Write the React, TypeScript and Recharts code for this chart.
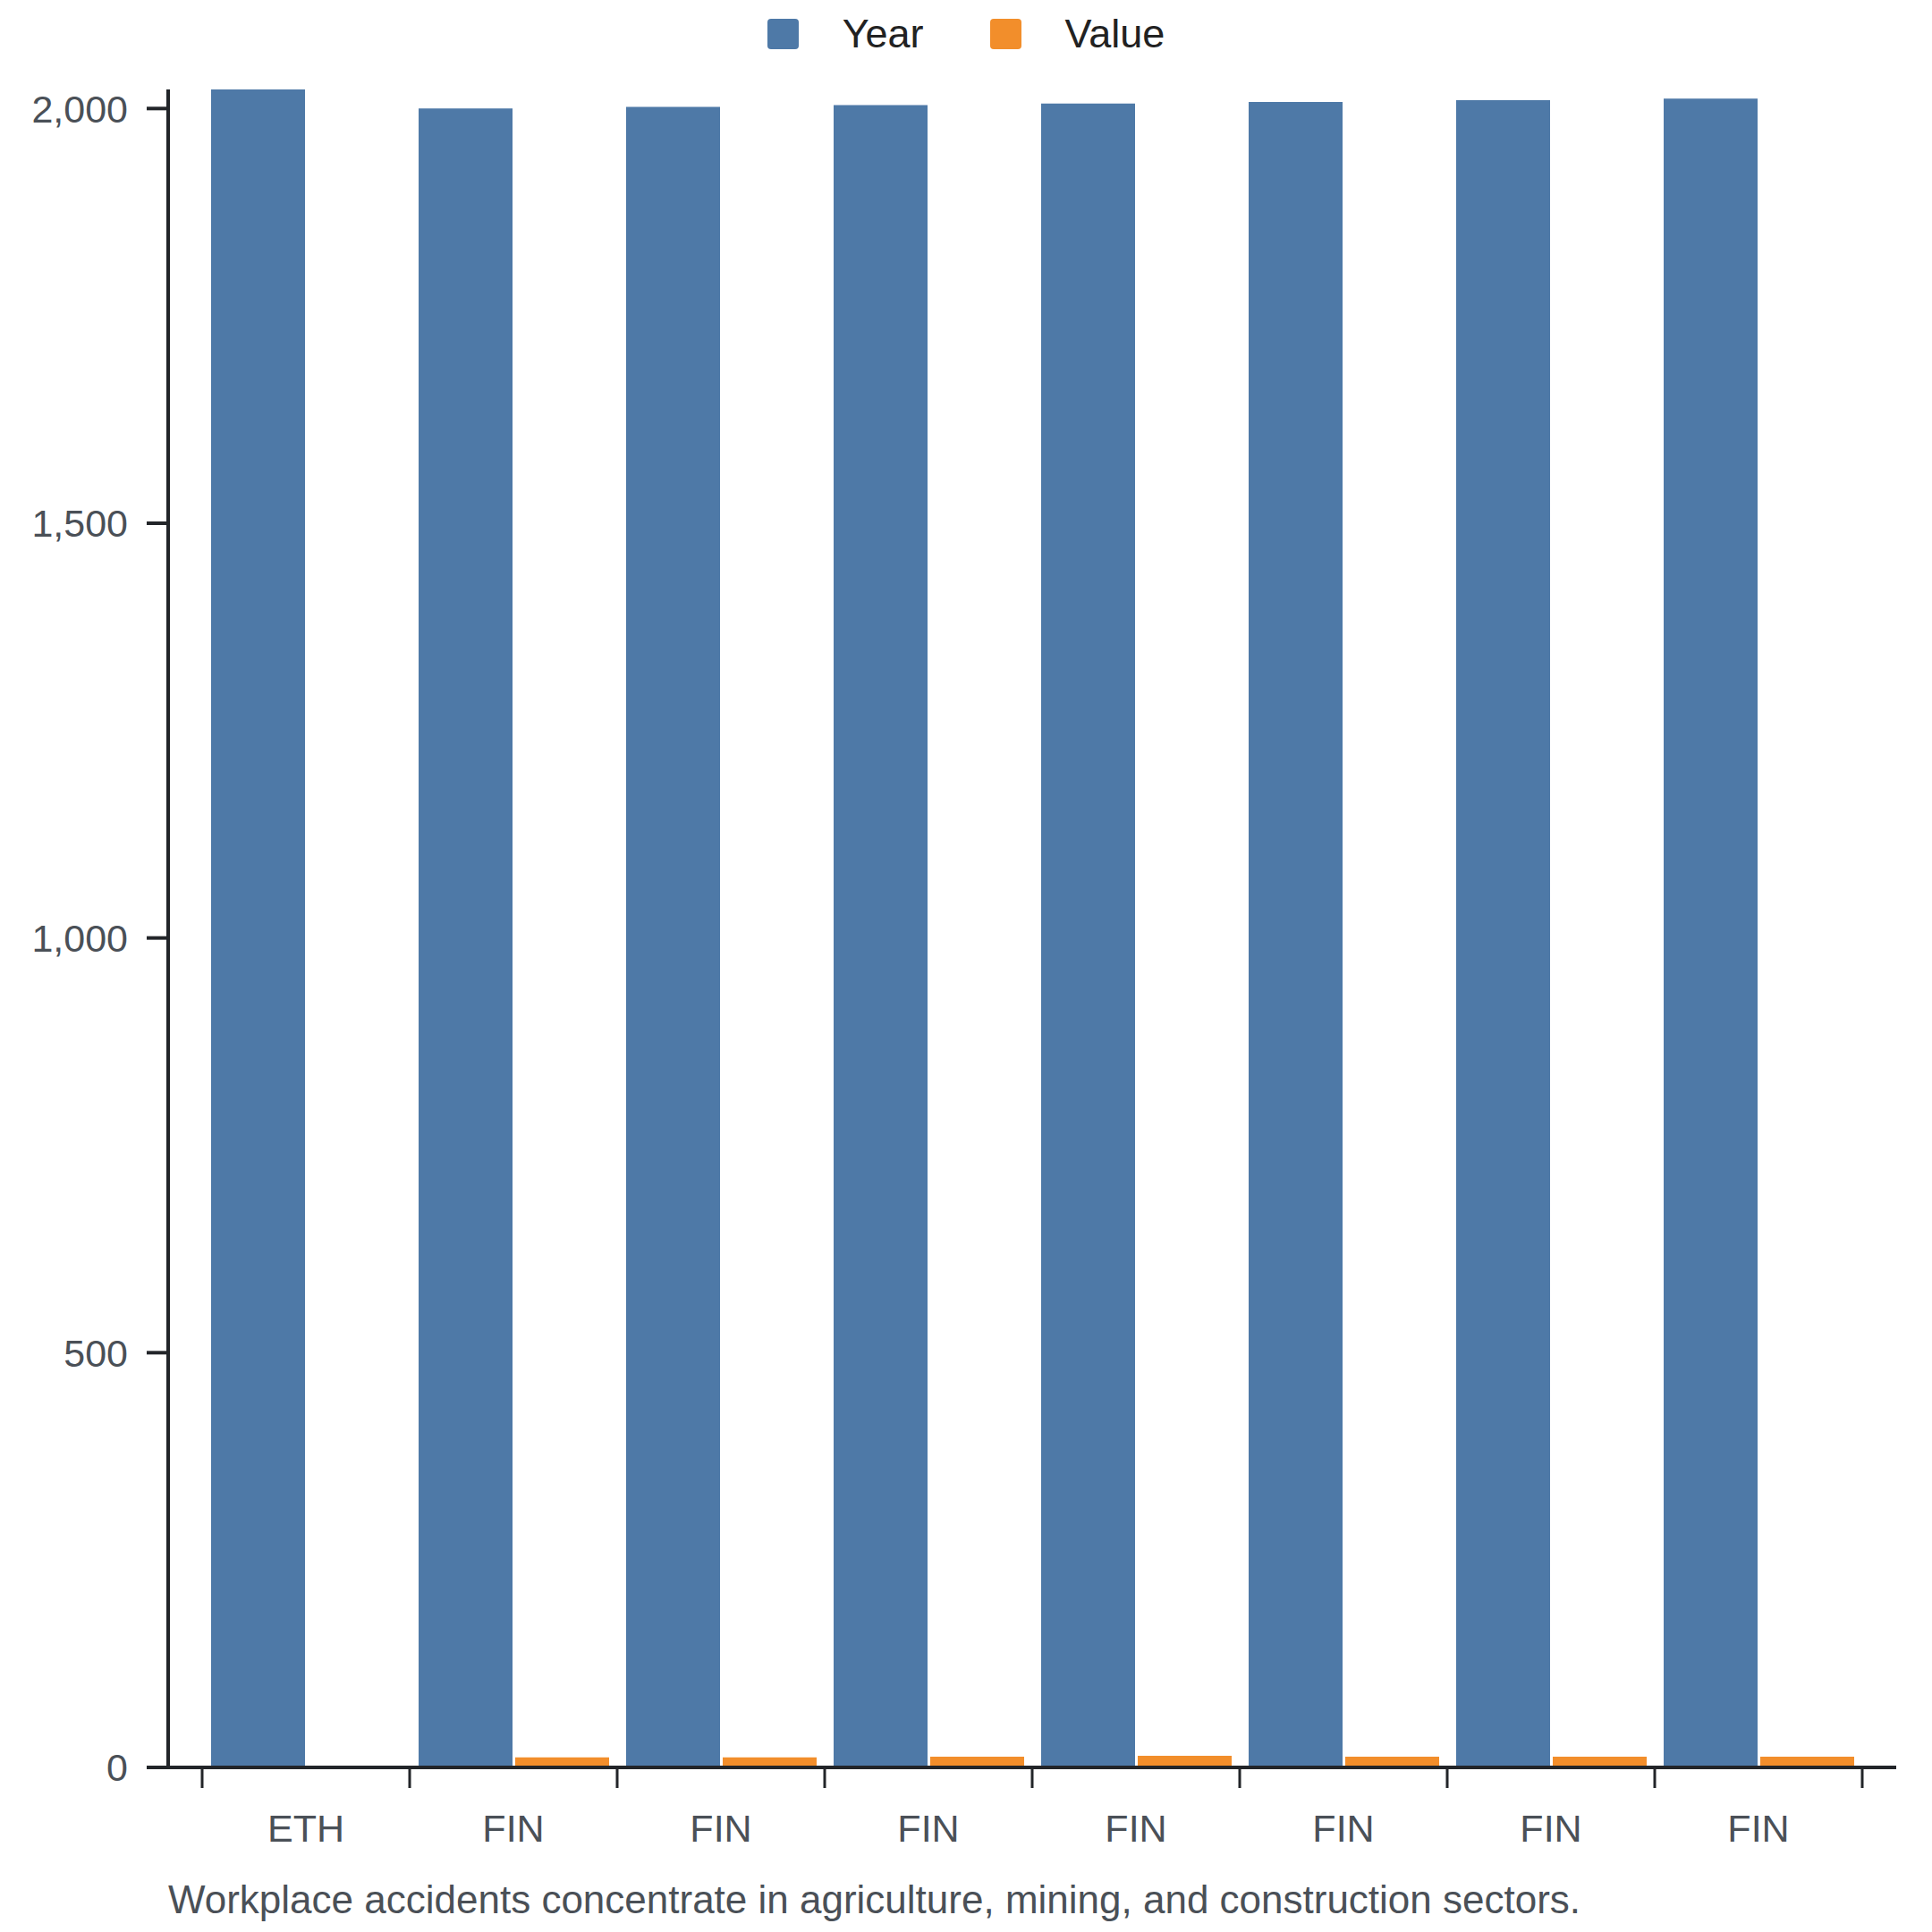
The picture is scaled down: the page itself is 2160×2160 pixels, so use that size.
import { BarChart, Bar, XAxis, YAxis, Legend } from "recharts";

const categories = ["ETH", "FIN", "FIN", "FIN", "FIN", "FIN", "FIN", "FIN"];
const yearValues = [2023, 2000, 2002, 2004, 2006, 2008, 2010, 2012];
const valueValues = [null, 12, 12, 13, 14, 13, 13, 13];
const yTicks = [0, 500, 1000, 1500, 2000];
const seriesOrder = ["Year", "Value"];
const caption = "Workplace accidents concentrate in agriculture, mining, and construction sectors.";

const data = categories.map((code, i) => ({
  id: i,
  code,
  year: yearValues[i],
  value: valueValues[i],
}));

const FONT = '"Liberation Sans", Arial, Helvetica, sans-serif';
const AXIS = "#222529";
const LABEL = "#4a5057";
const BAND = 232;

const CategoryTick = (props: any) => {
  const { x, y, payload, index } = props;
  const last = index === categories.length - 1;
  return (
    <g>
      <line x1={x - BAND / 2} x2={x - BAND / 2} y1={y} y2={y + 23} stroke={AXIS} strokeWidth={3} />
      {last && <line x1={x + BAND / 2} x2={x + BAND / 2} y1={y} y2={y + 23} stroke={AXIS} strokeWidth={3} />}
      <text x={x} y={y + 83} textAnchor="middle" fontSize={43} fill={LABEL} fontFamily={FONT}>
        {categories[payload.value] ?? payload.value}
      </text>
    </g>
  );
};

const LegendContent = (props: any) => {
  const items = [...(props.payload || [])].sort(
    (a: any, b: any) => seriesOrder.indexOf(a.value) - seriesOrder.indexOf(b.value)
  );
  return (
    <div style={{ display: "flex", justifyContent: "center", alignItems: "center", height: 76, fontFamily: FONT }}>
      {items.map((it: any, i: number) => (
        <div key={i} style={{ display: "flex", alignItems: "center", marginRight: i < items.length - 1 ? 74 : 0 }}>
          <div style={{ width: 35, height: 34, background: it.color, borderRadius: 4, marginRight: 49 }} />
          <span style={{ fontSize: 45, color: "#222" }}>{it.value}</span>
        </div>
      ))}
    </div>
  );
};

const CaptionLabel = (props: any) => {
  const vb = props.viewBox || { x: 188, y: 1976 };
  return (
    <text x={vb.x} y={vb.y + 163} fontSize={44} fill={LABEL} fontFamily={FONT}>
      {caption}
    </text>
  );
};

export default function App() {
  return (
    <div style={{ position: "absolute", left: 0, top: 0, width: 2160, height: 2160, background: "#fff" }}>
      <BarChart
        width={2160}
        height={2160}
        data={data}
        margin={{ top: 100, right: 40, bottom: 0, left: 0 }}
        barCategoryGap={10}
        barGap={3}
      >
        <XAxis
          dataKey="id"
          height={184}
          padding={{ left: 38, right: 38 }}
          axisLine={{ stroke: AXIS, strokeWidth: 4 }}
          tickLine={false}
          tickSize={0}
          tickMargin={0}
          interval={0}
          tick={<CategoryTick />}
          label={<CaptionLabel />}
        />
        <YAxis
          width={188}
          domain={[0, "dataMax"]}
          ticks={yTicks}
          interval={0}
          axisLine={{ stroke: AXIS, strokeWidth: 4 }}
          tickLine={{ stroke: AXIS, strokeWidth: 4 }}
          tickSize={24}
          tickMargin={21}
          tick={{ fontSize: 43, fill: LABEL, fontFamily: FONT }}
          tickFormatter={(v: number) => v.toLocaleString("en-US")}
        />
        <Legend
          verticalAlign="middle"
          layout="horizontal"
          wrapperStyle={{ top: 0, left: 0, width: 2160 }}
          content={<LegendContent />}
        />
        <Bar dataKey="year" name="Year" fill="#4e79a7" isAnimationActive={false} />
        <Bar dataKey="value" name="Value" fill="#f28e2b" isAnimationActive={false} />
      </BarChart>
    </div>
  );
}
